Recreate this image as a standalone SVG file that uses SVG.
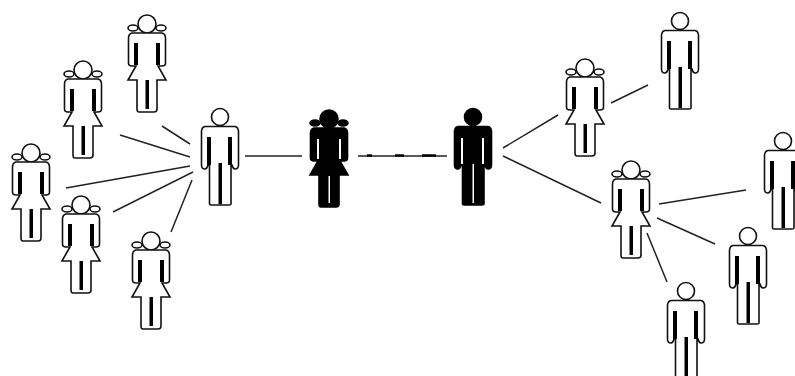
<svg xmlns="http://www.w3.org/2000/svg" width="795" height="376" viewBox="0 0 795 376">
<style>
.o{fill:#fff;color:#000;stroke:#111;stroke-width:1.6;--ss:none}
.b{fill:#000;color:#fff;stroke:#000;stroke-width:1.6;--ss:#000}
.slot{fill:currentColor;stroke:var(--ss);stroke-width:2}
#connectors line,#connectors path{stroke:#222;stroke-width:1.5;fill:none}
#connectors path{stroke:#000;stroke-width:2.500}
</style>
<defs>
<g id="man">
<circle cx="0" cy="0" r="8.5"/>
<path d="M-15,9.500H15Q18,10 18.500,14V48Q18.500,52 15,52Q13,52 12,48L11,47V87Q11,88 9,88H-9Q-10.500,88 -10.500,87V47L-12,48Q-13,52 -15,52Q-18.500,52 -18.500,48V14Q-18,10 -15,9.500Z"/>
<path class="slot" d="M-13,20H-9V48H-13ZM8,20H12V48H8ZM-1.500,46H2V87H-1.500Z"/>
</g>
<g id="woman">
<ellipse cx="-14" cy="4" rx="5" ry="3"/>
<ellipse cx="14" cy="4" rx="5" ry="3"/>
<circle cx="0" cy="0" r="9"/>
<path d="M-15,9H15Q18.500,10 18.500,14V39Q18.500,42 15,42L11,42L19,56H10V85Q10,88 7,88H-8Q-10,88 -10,85V56H-19L-11,42L-15,42Q-18.500,42 -18.500,39V14Q-18.500,10 -15,9Z"/>
<path class="slot" d="M-13,19H-9V41H-13ZM9,19H13V41H9ZM-1.500,56H2V85H-1.500Z"/>
</g>
</defs>
<rect width="795" height="376" fill="#fff"/>
<g id="connectors">
<line x1="162" y1="126" x2="190" y2="144"/>
<line x1="120" y1="135" x2="190" y2="157"/>
<line x1="66" y1="188" x2="190" y2="166"/>
<line x1="113" y1="212" x2="193" y2="172"/>
<line x1="171" y1="232" x2="192" y2="180"/>
<line x1="245" y1="156" x2="302" y2="156"/>
<line x1="358" y1="156" x2="447" y2="156"/>
<path d="M367,155.500H372M395,155.500H404M422,155.500H436"/>
<line x1="503" y1="148" x2="558" y2="115"/>
<line x1="503" y1="156" x2="601" y2="203"/>
<line x1="611" y1="103" x2="648" y2="85"/>
<line x1="659" y1="204" x2="746" y2="190"/>
<line x1="657" y1="218" x2="715" y2="244"/>
<line x1="647" y1="233" x2="667" y2="282"/>
</g>
<g id="woman-1" class="o"><use href="#woman" x="147" y="24"/></g>
<g id="woman-2" class="o"><use href="#woman" x="83" y="70"/></g>
<g id="woman-3" class="o"><use href="#woman" x="31" y="153"/></g>
<g id="woman-4" class="o"><use href="#woman" x="81" y="205"/></g>
<g id="woman-5" class="o"><use href="#woman" x="151" y="241"/></g>
<g id="man-1" class="o"><use href="#man" x="220" y="117"/></g>
<g id="woman-black" class="b"><use href="#woman" x="329" y="119"/></g>
<g id="man-black" class="b"><use href="#man" x="473" y="117"/></g>
<g id="woman-6" class="o"><use href="#woman" x="585" y="68"/></g>
<g id="man-2" class="o"><use href="#man" x="680" y="21"/></g>
<g id="woman-7" class="o"><use href="#woman" x="631" y="170"/></g>
<g id="man-3" class="o"><use href="#man" x="783" y="141"/></g>
<g id="man-4" class="o"><use href="#man" x="748" y="236"/></g>
<g id="man-5" class="o"><use href="#man" x="686" y="291"/></g>
</svg>
